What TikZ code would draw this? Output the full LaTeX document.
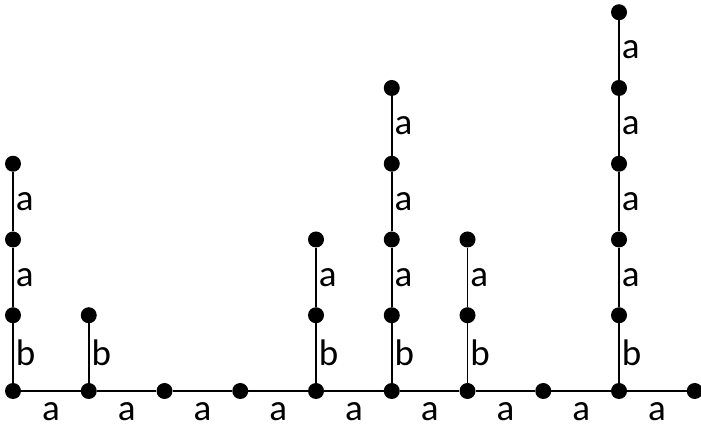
\documentclass[tikz,border=0pt]{standalone}
\usepackage{fontspec}
\setmainfont{Carlito}
\begin{document}
\begin{tikzpicture}[x=1pt,y=1pt,
  dot/.style={circle,fill=black,inner sep=0pt,minimum size=16pt},
  edge/.style={line width=1.6pt},
  lab/.style={font=\fontsize{37}{37}\selectfont,inner sep=0pt}]
\useasboundingbox (0,0) rectangle (701,425);
% columns: index, height
\foreach \i/\h in {0/3,1/1,2/0,3/0,4/2,5/4,6/2,7/0,8/5,9/0}{
  \foreach \k in {0,...,\h}{
    \node[dot] (n-\i-\k) at ({13+75.75*\i},{34+75.75*\k}) {};
  }
}
% bottom line
\foreach \i [count=\j from 1] in {0,...,8}{
  \draw[edge] (n-\i-0) -- (n-\j-0) node[lab,midway,below=11pt] {a};
}
% vertical edges
\foreach \i/\h in {0/3,1/1,4/2,5/4,6/2,8/5}{
  \foreach \k [count=\m from 1] in {0,...,\numexpr\h-1\relax}{
    \ifnum\k=0
      \draw[edge] (n-\i-\k) -- (n-\i-\m) node[lab,midway,right=2pt] {b};
    \else
      \draw[edge] (n-\i-\k) -- (n-\i-\m) node[lab,midway,right=2pt] {a};
    \fi
  }
}
\end{tikzpicture}
\end{document}
